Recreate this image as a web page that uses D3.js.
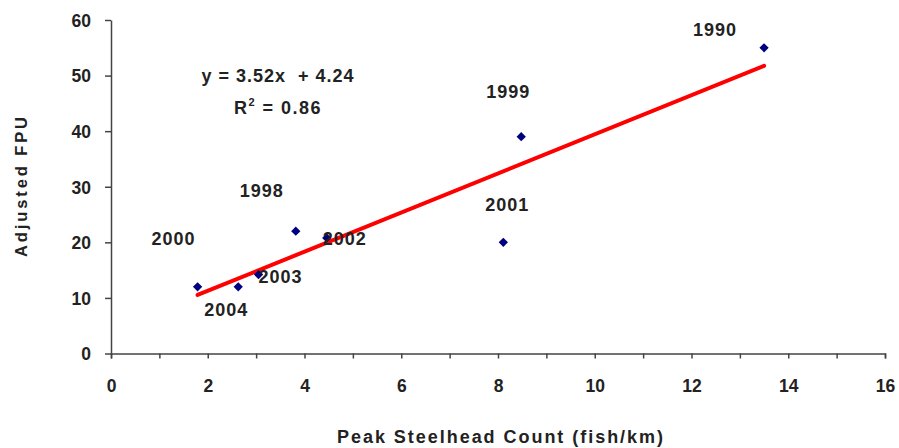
<!DOCTYPE html>
<html>
<head>
<meta charset="utf-8">
<script src="https://cdn.jsdelivr.net/npm/d3@7"></script>
<style>
  body { margin: 0; background: #fff; }
  text { font-family: "Liberation Sans", Arial, sans-serif; font-weight: bold; fill: #222; }
</style>
</head>
<body>
<svg id="chart" width="899" height="448"></svg>
<script>
// data
var years  = ["2000", "2004", "2003", "1998", "2002", "2001", "1999", "1990"];
var counts = [1.79, 2.63, 3.05, 3.82, 4.46, 8.11, 8.48, 13.5];
var fpu    = [12, 12, 14.2, 22, 20.8, 20, 39, 55];
var xTicks = [0, 2, 4, 6, 8, 10, 12, 14, 16];
var yTicks = [0, 10, 20, 30, 40, 50, 60];
var slope = 3.52, intercept = 4.24, r2 = 0.86;

// where each year label sits relative to its point
var labelOffsets = {
  "2000": [-24, -42], "2004": [-12, 29], "2003": [22, 8], "1998": [-34, -34],
  "2002": [18, 7], "2001": [4, -31], "1999": [-13, -39], "1990": [-49, -12]
};

var svg = d3.select("#chart");
var x = d3.scaleLinear().domain([0, 16]).range([111, 885]);
var y = d3.scaleLinear().domain([0, 60]).range([353.5, 20]);

var points = years.map(function(yr, i) { return {year: yr, x: counts[i], y: fpu[i]}; });

// axes
var xAxis = svg.append("g")
  .attr("transform", "translate(0," + y(0) + ")")
  .call(d3.axisBottom(x).tickValues(d3.range(0, 17, 1)).tickSize(5)
    .tickFormat(function(d) { return xTicks.indexOf(d) >= 0 ? d : ""; }));
xAxis.select(".domain").attr("stroke", "#444").attr("stroke-width", 1.5);
xAxis.selectAll(".tick line").attr("stroke", "#444").attr("stroke-width", 1.5);
xAxis.selectAll(".tick text").attr("font-size", 17.5).attr("dy", 0).attr("y", 38)
  .attr("font-family", "Liberation Sans").attr("font-weight", "bold").attr("fill", "#222");

var yAxis = svg.append("g")
  .attr("transform", "translate(" + x(0) + ",0)")
  .call(d3.axisLeft(y).tickValues(yTicks).tickSize(6).tickSizeOuter(0));
yAxis.select(".domain").attr("stroke", "#444").attr("stroke-width", 1.5);
yAxis.selectAll(".tick line").attr("stroke", "#444").attr("stroke-width", 1.5);
yAxis.selectAll(".tick text").attr("font-size", 17.5).attr("x", -20).attr("dy", "0.36em")
  .attr("font-family", "Liberation Sans").attr("font-weight", "bold").attr("fill", "#222");

// trend line
var xMin = d3.min(counts), xMax = d3.max(counts);
svg.append("line")
  .attr("x1", x(xMin)).attr("y1", y(slope * xMin + intercept))
  .attr("x2", x(xMax)).attr("y2", y(slope * xMax + intercept))
  .attr("stroke", "#ff0000").attr("stroke-width", 4).attr("stroke-linecap", "round");

// points
svg.selectAll(".pt")
  .data(points)
  .enter().append("path")
    .attr("class", "pt")
    .attr("d", d3.symbol().type(d3.symbolDiamond2).size(55))
    .attr("transform", function(d) { return "translate(" + x(d.x) + "," + y(d.y) + ")"; })
    .attr("fill", "#000080");

// year labels
svg.selectAll(".yr")
  .data(points)
  .enter().append("text")
    .attr("class", "yr")
    .attr("x", function(d) { return x(d.x) + labelOffsets[d.year][0]; })
    .attr("y", function(d) { return y(d.y) + labelOffsets[d.year][1]; })
    .attr("text-anchor", "middle")
    .attr("font-size", 18).attr("letter-spacing", 1)
    .text(function(d) { return d.year; });

// equation
svg.append("text")
  .attr("x", 278).attr("y", 82).attr("text-anchor", "middle").attr("font-size", 18)
  .attr("letter-spacing", 1).attr("xml:space", "preserve")
  .text("y = " + slope.toFixed(2) + "x  + " + intercept.toFixed(2));
var rt = svg.append("text")
  .attr("x", 278).attr("y", 114).attr("text-anchor", "middle").attr("font-size", 18)
  .attr("letter-spacing", 1.5);
rt.append("tspan").text("R");
rt.append("tspan").attr("font-size", 11).attr("dy", -8).text("2");
rt.append("tspan").attr("dy", 8).text(" = " + r2.toFixed(2));

// axis titles
svg.append("text")
  .attr("transform", "translate(27,187) rotate(-90)")
  .attr("text-anchor", "middle")
  .attr("font-family", "DejaVu Sans").attr("font-size", 16.5)
  .attr("textLength", 140).attr("lengthAdjust", "spacing")
  .text("Adjusted FPU");
svg.append("text")
  .attr("x", 500).attr("y", 443).attr("text-anchor", "middle")
  .attr("font-family", "DejaVu Sans").attr("font-size", 18)
  .attr("textLength", 326).attr("lengthAdjust", "spacing")
  .text("Peak Steelhead Count (fish/km)");
</script>
</body>
</html>
